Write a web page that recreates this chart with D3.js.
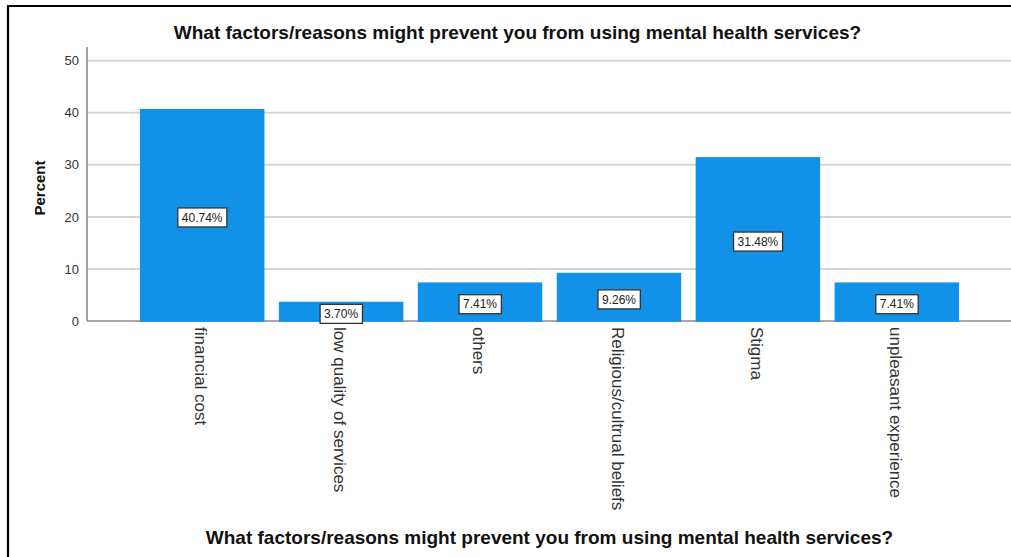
<!DOCTYPE html>
<html>
<head>
<meta charset="utf-8">
<script src="https://cdn.jsdelivr.net/npm/d3@7/dist/d3.min.js"></script>
<style>
  html, body { margin: 0; padding: 0; background: #fff; }
  svg { display: block; font-family: "Liberation Sans", Arial, sans-serif; }
</style>
</head>
<body>
<svg id="chart" width="1011" height="557"></svg>
<script>
// Reasons and their share of respondents (percent)
const categories = [
  "financial cost",
  "low quality of services",
  "others",
  "Religious/cultrual beliefs",
  "Stigma",
  "unpleasant experience"
];
const percents = [40.74, 3.70, 7.41, 9.26, 31.48, 7.41];
const yTicks = [0, 10, 20, 30, 40, 50];
const chartTitle = "What factors/reasons might prevent you from using mental health services?";
const yTitle = "Percent";

const svg = d3.select("#chart");
const W = 1011, H = 557;

// Frame lines (left and top)
svg.append("line").attr("x1", 8).attr("x2", 8).attr("y1", 5).attr("y2", H)
  .attr("stroke", "#000").attr("stroke-width", 2.2);
svg.append("line").attr("x1", 7).attr("x2", W).attr("y1", 6).attr("y2", 6)
  .attr("stroke", "#000").attr("stroke-width", 2.2);

const plot = { left: 87, right: 1012, top: 47, bottom: 321 };

const x = d3.scaleBand()
  .domain(categories)
  .range([plot.left, plot.right])
  .paddingInner(0.104)
  .paddingOuter(0.381);

const y = d3.scaleLinear()
  .domain([0, 50])
  .range([plot.bottom, 60.7]);

// Horizontal gridlines
svg.append("g")
  .selectAll("line")
  .data(yTicks.filter(d => d > 0))
  .join("line")
  .attr("x1", plot.left).attr("x2", W)
  .attr("y1", d => y(d)).attr("y2", d => y(d))
  .attr("stroke", "#d6d6d6").attr("stroke-width", 2);

// Y axis tick labels
const yAxis = d3.axisLeft(y).tickValues(yTicks).tickSize(0).tickPadding(8);
const gy = svg.append("g").attr("transform", `translate(${plot.left},0)`).call(yAxis);
gy.select(".domain").remove();
gy.selectAll("text")
  .attr("font-size", 13)
  .attr("fill", "#333")
  .attr("font-family", "Liberation Sans, Arial, sans-serif");

// Axis lines
svg.append("line").attr("x1", plot.left).attr("x2", plot.left)
  .attr("y1", plot.top).attr("y2", plot.bottom)
  .attr("stroke", "#8c8c8c").attr("stroke-width", 1.6);
svg.append("line").attr("x1", plot.left).attr("x2", W)
  .attr("y1", plot.bottom).attr("y2", plot.bottom)
  .attr("stroke", "#8c8c8c").attr("stroke-width", 1.6);

// Bars
svg.append("g")
  .selectAll("rect")
  .data(categories.map((c, i) => ({ c, v: percents[i] })))
  .join("rect")
  .attr("x", d => x(d.c))
  .attr("width", x.bandwidth())
  .attr("y", d => y(d.v))
  .attr("height", d => y(0) - y(d.v) + 0.8)
  .attr("fill", "#1192e8");

// Value labels in white boxes
const lab = svg.append("g")
  .selectAll("g")
  .data(categories.map((c, i) => ({ c, v: percents[i] })))
  .join("g")
  .attr("transform", d => `translate(${x(d.c) + x.bandwidth() / 2},${y(d.v / 2) + 2.5})`);

lab.append("text")
  .attr("text-anchor", "middle")
  .attr("dy", "0.35em")
  .attr("font-size", 12)
  .attr("fill", "#222")
  .text(d => d.v.toFixed(2) + "%");

lab.each(function () {
  const g = d3.select(this);
  const bb = g.select("text").node().getBBox();
  g.insert("rect", "text")
    .attr("x", bb.x - 4).attr("y", -9.5)
    .attr("width", bb.width + 8).attr("height", 19)
    .attr("fill", "#fff").attr("stroke", "#333").attr("stroke-width", 1.3);
});

// Category labels, rotated to read downward
svg.append("g")
  .selectAll("text")
  .data(categories)
  .join("text")
  .attr("transform", d => `translate(${x(d) + x.bandwidth() / 2 - 1},${plot.bottom + 6}) rotate(90)`)
  .attr("dy", "0.35em")
  .attr("text-anchor", "start")
  .attr("font-size", 17)
  .attr("fill", "#333")
  .text(d => d);

// Titles
svg.append("text")
  .attr("x", 517.5).attr("y", 39)
  .attr("text-anchor", "middle")
  .attr("font-size", 19).attr("font-weight", "bold").attr("fill", "#111")
  .text(chartTitle);

svg.append("text")
  .attr("x", (plot.left + plot.right) / 2).attr("y", 544)
  .attr("text-anchor", "middle")
  .attr("font-size", 19).attr("font-weight", "bold").attr("fill", "#111")
  .text(chartTitle);

svg.append("text")
  .attr("transform", `translate(45,188) rotate(-90)`)
  .attr("text-anchor", "middle")
  .attr("font-size", 15).attr("font-weight", "bold").attr("fill", "#111")
  .text(yTitle);
</script>
</body>
</html>
